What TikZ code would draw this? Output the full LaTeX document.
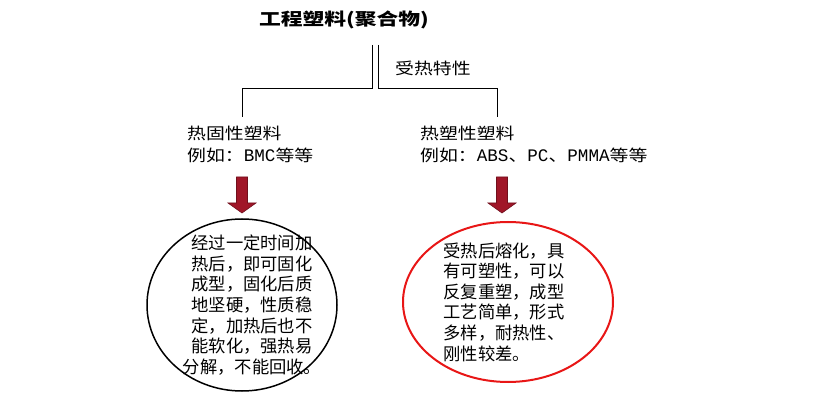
\documentclass[tikz,border=0pt]{standalone}
\usepackage{fontspec}
\setmainfont{Noto Sans CJK SC}
\newfontfamily\titlefont[FakeStretch=1.28]{Noto Sans CJK SC}
\newfontfamily\labelfont[FakeStretch=1.18]{Noto Sans CJK SC}
\newfontfamily\halfwidth[Scale=1.1]{Liberation Mono}
\usetikzlibrary{positioning,shapes.geometric}
\definecolor{arrowred}{RGB}{160,22,40}
\definecolor{ringred}{RGB}{232,22,22}
\tikzset{
  tree/.style={line width=1pt},
  lbl/.style={anchor=west, inner sep=0pt, align=left, font=\labelfont\fontsize{16}{22}\selectfont},
  body/.style={inner sep=0pt, font=\fontsize{17.3}{20.6}\selectfont},
  heatarrow/.style={fill=arrowred, draw=arrowred!70!black, line width=0.6pt},
  ring/.style={ellipse, draw, inner sep=0pt}
}
\begin{document}
\begin{tikzpicture}[x=1pt,y=-1pt]
	\useasboundingbox (0,0) rectangle (825,403);
	% title and the two stems
	\node[font=\titlefont\bfseries\fontsize{17}{20}\selectfont, inner sep=0pt] (title) at (344,20) {工程塑料(聚合物)};
	\coordinate (stemL) at (372,45);
	\coordinate (stemR) at (378,45);
	\coordinate (topL) at (242,117);
	\coordinate (topR) at (497,117);
	\draw[tree] (stemL) -- ++(0,44) -| (topL);
	\draw[tree] (stemR) -- ++(0,44) -| (topR);
	\node[lbl] (heat) at (395,68) {受热特性};
	% the two kinds
	\node[lbl] (setL) at (187,144) {热固性塑料\\例如：{\halfwidth BMC}等等};
	\node[lbl] (plasR) at (420,144) {热塑性塑料\\例如：{\halfwidth ABS}、{\halfwidth PC}、{\halfwidth PMMA}等等};
	% block arrows
	\coordinate (arrL) at (242,177);
	\coordinate (arrR) at (502,177);
	\draw[heatarrow] (arrL) ++(-5.5,0) -- ++(11,0) -- ++(0,26) -- ++(8.5,0) -- ++(-14,10) -- ++(-14,-10) -- ++(8.5,0) -- cycle;
	\draw[heatarrow] (arrR) ++(-5.5,0) -- ++(11,0) -- ++(0,26) -- ++(8.5,0) -- ++(-14,10) -- ++(-14,-10) -- ++(8.5,0) -- cycle;
	% ellipses with their texts
	\node[ring, line width=1.5pt, minimum width=190pt, minimum height=172pt] (ellL) at (242,305) {};
	\node[ring, draw=ringred, line width=2pt, minimum width=210pt, minimum height=160pt] (ellR) at (508,302) {};
	\node[body, align=center] (txtL) at ([xshift=10pt]ellL.center) {经过一定时间加\\热后，即可固化\\成型，固化后质\\地坚硬，性质稳\\定，加热后也不\\能软化，强热易\\分解，不能回收。};
	\node[body, align=left] (txtR) at ([xshift=-4pt]ellR.center) {受热后熔化，具\\有可塑性，可以\\反复重塑，成型\\工艺简单，形式\\多样，耐热性、\\刚性较差。};
\end{tikzpicture}
\end{document}
